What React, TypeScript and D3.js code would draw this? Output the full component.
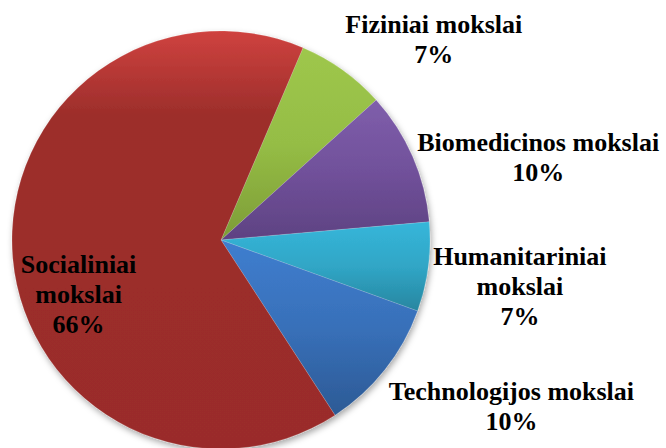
import React from "react";
import * as d3 from "d3";

// slices clockwise, starting from the red/green border near 12 o'clock
const categories = ["Fiziniai", "Biomedicinos", "Humanitariniai", "Technologijos", "Socialiniai"];
const shares = [6.9, 10.3, 6.9, 10.3, 65.6];
const labelLines = [
  ["Fiziniai mokslai"],
  ["Biomedicinos mokslai"],
  ["Humanitariniai", "mokslai"],
  ["Technologijos mokslai"],
  ["Socialiniai", "mokslai"],
];
const insideLabel = [false, false, false, false, true];

// light top -> dark bottom per slice
const gradients = [
  [["0", "#9ec74c"], ["0.5", "#95bd45"], ["1", "#7d9c37"]],
  [["0", "#7f5eab"], ["0.5", "#71519b"], ["1", "#5e4282"]],
  [["0", "#36b6da"], ["0.5", "#30a6c6"], ["1", "#2886a0"]],
  [["0", "#3f7ecf"], ["0.5", "#3870b9"], ["1", "#2c5a95"]],
  [["0", "#cf423f"], ["0.2", "#9d2e2b"], ["1", "#9a2c2a"]],
];

const FONT = "Liberation Serif";
const FONT_SIZE = 26;
const LINE_H = 30;

let ctx: CanvasRenderingContext2D | null = null;
function textWidth(s: string) {
  if (!ctx) ctx = document.createElement("canvas").getContext("2d");
  if (!ctx) return s.length * 12;
  ctx.font = `bold ${FONT_SIZE}px "${FONT}", serif`;
  return ctx.measureText(s).width;
}

export default function App() {
  const width = 666;
  const height = 448;
  const cx = 221;
  const cy = 240;
  const radius = 209;

  const start = (23.1 * Math.PI) / 180;
  const pie = d3.pie<number>().sort(null).startAngle(start).endAngle(start + 2 * Math.PI);
  const arcs = pie(shares);
  const arc = d3.arc<d3.PieArcDatum<number>>().innerRadius(0).outerRadius(radius);
  const total = d3.sum(shares);

  // vertical alignment of outside labels as a function of the slice direction
  const alignY = d3.scaleLinear().domain([-0.7, 0, 0.4, 0.8]).range([0, 0.36, 0.45, 0.95]).clamp(true);

  const labels = arcs.map((a, i) => {
    const mid = (a.startAngle + a.endAngle) / 2;
    const lines = [...labelLines[i], `${Math.round((shares[i] / total) * 100)}%`];
    const w = d3.max(lines, textWidth) ?? 0;
    const h = lines.length * LINE_H - 1;
    const inside = insideLabel[i];
    const r = inside ? radius - 8 : radius + 5;
    const px = Math.sin(mid) * r;
    const py = -Math.cos(mid) * r;
    let top: number;
    if (inside) {
      top = py - 0.08 * h;
    } else {
      top = py - alignY(Math.cos(mid)) * h + (Math.cos(mid) < -0.5 ? 6 : 0);
    }
    const left = Math.sin(mid) >= 0 ? px : px - (inside ? 0 : w);
    return { lines, x: left + w / 2, y0: top + 23, key: categories[i] };
  });

  return (
    <svg width={width} height={height} style={{ display: "block", position: "absolute", left: 0, top: 0 }}>
      <defs>
        {gradients.map((stops, i) => (
          <linearGradient key={i} id={`g${i}`} x1="0" y1="0" x2="0" y2="1">
            {stops.map(([o, c]) => (
              <stop key={o} offset={o} stopColor={c} />
            ))}
          </linearGradient>
        ))}
        <filter id="shadow" x="-10%" y="-10%" width="120%" height="125%">
          <feDropShadow dx="1.5" dy="3" stdDeviation="3" floodColor="#000" floodOpacity="0.35" />
        </filter>
      </defs>
      <g transform={`translate(${cx},${cy})`}>
        <g filter="url(#shadow)">
          {arcs.map((a, i) => (
            <path key={categories[i]} d={arc(a) ?? ""} fill={`url(#g${i})`} stroke="#ffffff" strokeOpacity={0.25} strokeWidth={0.6} />
          ))}
        </g>
        {labels.map((l) => (
          <text
            key={l.key}
            textAnchor="middle"
            style={{ fontFamily: `"${FONT}", "Times New Roman", serif`, fontWeight: "bold", fontSize: FONT_SIZE }}
            fill="#000"
          >
            {l.lines.map((s, j) => (
              <tspan key={j} x={l.x} y={l.y0 + j * LINE_H}>
                {s}
              </tspan>
            ))}
          </text>
        ))}
      </g>
    </svg>
  );
}
